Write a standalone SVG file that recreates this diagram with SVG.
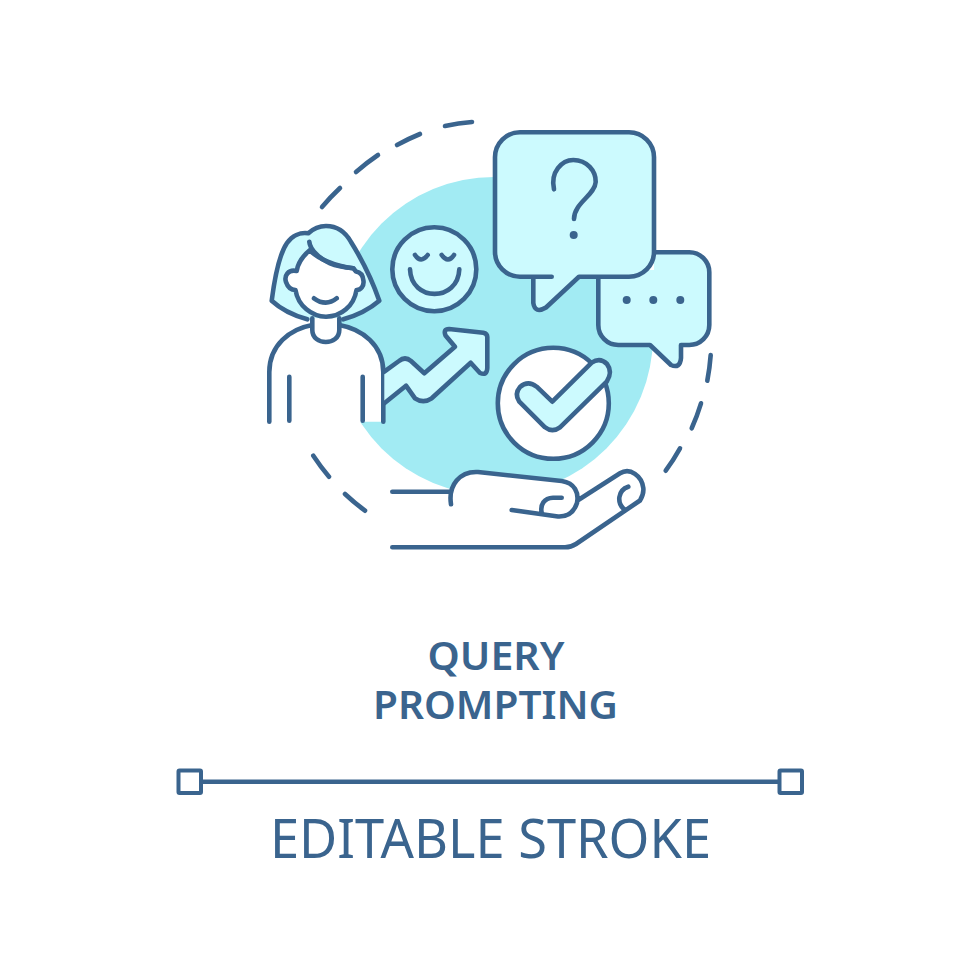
<svg xmlns="http://www.w3.org/2000/svg" width="980" height="980" viewBox="0 0 980 980">
<style>
.s{stroke:#3a648e;stroke-width:4.6;stroke-linecap:round;stroke-linejoin:round;fill:none}
.l{fill:#ccfafe}
.w{fill:#fff}
.n{stroke:none}
.t{font-family:"Noto Sans","Open Sans","Liberation Sans",sans-serif;fill:#3a648e;text-anchor:middle}
.b{font-weight:600;font-size:39.5px}
</style>
<rect width="980" height="980" fill="#fff"/>
<circle id="backdrop" cx="494" cy="336" r="159" fill="#a2ebf3"/>
<g id="dashes" class="s">
<path d="M472 122A225 225 0 0 0 445 126M420 134A225 225 0 0 0 397 145M378 155A225 225 0 0 0 356 172M340 188A225 225 0 0 0 322 207"/>
<path d="M710.700 355A225 225 0 0 1 707.300 380.700M701 403.300A225 225 0 0 1 691.700 428.300M680 448.300A225 225 0 0 1 665.700 470.700"/>
<path d="M313.300 455.700A225 225 0 0 0 329 476.700M345 494A225 225 0 0 0 365 510.700"/>
</g>
<g id="person">
<path class="s l" d="M307.300 319.300Q285 313 271.700 300.700C274 283 278 256 287 243C292 236 300 232 308.300 233.300C314 228 320 226 326 226C338 226 346 233 351 242C361 258 371 277 379.300 300.700Q365 313 343.300 319.300"/>
<path class="w n" d="M269.300 421.700V372C269.300 345 290 329 312.300 325H339.300C362 329 383.300 345 383.300 372V421.700Z"/>
<path class="s" d="M269.300 421.700V372C269.300 345 290 329 312.300 325M339.300 325C362 329 383.300 345 383.300 372V421.700M289.300 376.700V420.700M362.700 376.700V420.700"/>
<path class="s w" d="M312.300 318.300V330C312.300 346 339.300 346 339.300 330V318.300"/>
<path class="s w" d="M310 250C304 255 298 262 296.700 271C288 269 284 276 286 282C288 288 291 290 295.500 290C298 306 312 316.700 326 316.700C341 316.700 354 306 356.500 290C361 290 364 286 363.500 281C363 275 360 272 356 271.500L353.300 268.300C335 266 316 258 310 250Z"/>
<path class="s" d="M309.300 241.700C310 250 320 259 330 263.300C338 266.500 346 267.500 353.300 268.300M314 298.300Q326 307 336.700 298.300"/>
</g>
<g id="smiley">
<circle class="s l" cx="434.300" cy="269.300" r="42"/>
<path class="s" d="M415 255Q421 264 427.700 255M441.700 255Q448 264 454 255M410 269.300C411 302 458 302 459.300 269.300"/>
</g>
<g id="arrow">
<path class="s l" d="M384.300 371.700L399 361Q405 356 411 361L424.300 373.300L455 346.700L445.500 335.500Q443 329 449 329L483.300 332.700Q487.300 333.500 487.300 337V368Q487 376 480 373L470.700 362.700L431.700 398.300Q423.300 404 415 398.300L406 385.700L384.300 403.300"/>
</g>
<g id="check">
<circle class="s w" cx="553.300" cy="403.300" r="55.500"/>
<path class="s l" d="M552.300 401.700L591.700 362.700Q600 357 607 364Q613 372 606.700 381.700L560 427.300Q552.300 433 545 427.300L519.300 401.700Q514 394 520 387Q528 380 536.700 386.700Z"/>
</g>
<g id="small-bubble">
<path class="l n" d="M654 252.300H689.300A20 20 0 0 1 709.300 272.300V325A20 20 0 0 1 689.300 345H681V358Q680 369 671 365L650 345H618.300A20 20 0 0 1 598.300 325V270H654Z"/>
<path class="s" d="M654 252.300H689.300A20 20 0 0 1 709.300 272.300V325A20 20 0 0 1 689.300 345H681V358Q680 369 671 365L650 345H618.300A20 20 0 0 1 598.300 325V278"/>
<g fill="#3a648e"><circle cx="626.700" cy="300" r="4"/><circle cx="653.300" cy="300" r="4"/><circle cx="680.300" cy="300" r="4"/></g>
</g>
<g id="large-bubble">
<path class="l n" d="M520 132.300H629A25 25 0 0 1 654 157.300V251.700A25 25 0 0 1 629 276.700H579L546 307.500Q535 314 533.300 303V276.700H520A25 25 0 0 1 495 251.700V157.300A25 25 0 0 1 520 132.300Z"/>
<path class="s" d="M551.700 276.700H520A25 25 0 0 1 495 251.700V157.300A25 25 0 0 1 520 132.300H629A25 25 0 0 1 654 157.300V251.700A25 25 0 0 1 629 276.700H579L546 307.500Q535 314 533.300 303V278"/>
<path class="s" d="M554 189.300C550 172 562 160 573.300 160C587 160 596 171 595.700 182C595 195 574 203 574 219"/>
<circle cx="573.700" cy="235" r="4" fill="#3a648e"/>
</g>
<g id="hand">
<path class="w n" d="M392.300 547.300H565Q571 547.300 576 544L643.300 498.300C650 488 638 470 628.300 470.700Q623 471 620 473.300L577 501C578 490 574 483 561.700 481L475 471.700C462 471 452 480 450 491.700H392.300V547.300Z"/>
<path class="s" d="M392.300 491.700H450M451 504.300C448 485 460 471 478 472L561.700 481C575 483 579 493 577 503C574 512 568 517 558 516.500L511.700 510M561.700 497.700L553 497.700C544 498 540 505 541.700 512.700M578.300 500L620 473.300C630 467 642 476 643.300 488Q644 494 640 500.500L576 544Q571 547.300 565 547.300H392.300M628.300 486.700C618 490 616 503 625 510"/>
</g>
<g id="labels">
<text class="t b" x="496" y="670" textLength="137" lengthAdjust="spacingAndGlyphs">QUERY</text>
<text class="t b" x="495.500" y="719" textLength="245" lengthAdjust="spacingAndGlyphs">PROMPTING</text>
<text class="t" x="490.500" y="857.700" font-size="54" textLength="441" lengthAdjust="spacingAndGlyphs">EDITABLE STROKE</text>
</g>
<g id="stroke-sample">
<path d="M201 781.700H779" stroke="#3a648e" stroke-width="4.500" fill="none"/>
<rect x="178.500" y="770.500" width="22.500" height="22.500" rx="1" fill="#fff" stroke="#3a648e" stroke-width="4"/>
<rect x="779.500" y="770.500" width="22.500" height="22.500" rx="1" fill="#fff" stroke="#3a648e" stroke-width="4"/>
</g>
</svg>
